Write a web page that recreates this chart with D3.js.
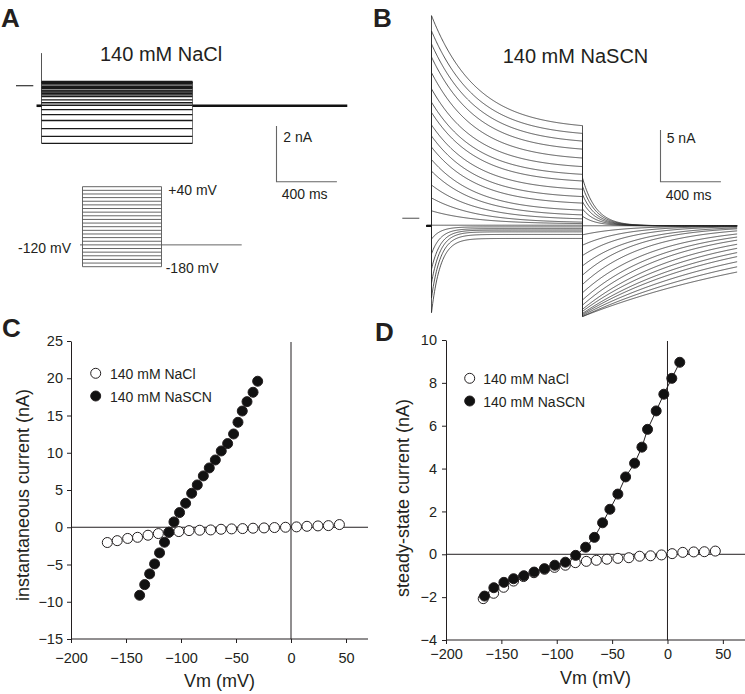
<!DOCTYPE html>
<html><head><meta charset="utf-8">
<script src="https://cdn.jsdelivr.net/npm/d3@7"></script>
<style>
body{margin:0;background:#fff}
svg{display:block}
text{font-family:"Liberation Sans",Arial,sans-serif;fill:#231f20}
</style>
</head><body>
<svg id="fig" width="745" height="694"></svg>
<script>
// ---------------- DATA ----------------
// Panel C: instantaneous current (nA) vs Vm (mV)
const vmC_NaCl = [-167,-158,-148.5,-139.5,-130,-120.6,-111,-102,-92.7,-83,-73,-63.6,-54,-44,-34.5,-24.5,-15,-5,5,14.5,24.5,34,44];
const iInst_NaCl = [-2.05,-1.8,-1.5,-1.35,-1.07,-0.85,-0.67,-0.58,-0.45,-0.4,-0.36,-0.27,-0.22,-0.18,-0.13,-0.09,-0.04,0,0.05,0.13,0.18,0.22,0.36];
const vmC_NaSCN = [-137.6,-133,-128.5,-124,-119.5,-115,-111,-106.4,-101.3,-95.8,-90.3,-85.2,-79.7,-74.3,-68.8,-63.4,-57.6,-52.2,-48.2,-44.3,-40,-34.5,-30.3];
const iInst_NaSCN = [-9.13,-7.7,-6.26,-4.92,-3.44,-2.01,-0.67,0.72,1.97,3.22,4.56,5.68,6.89,7.96,9.03,10.24,11.23,12.52,14.09,15.6,16.86,18.12,19.6];
// Panel D: steady-state current (nA) vs Vm (mV)
const vmD_NaCl = [-166.4,-157,-148,-139,-130,-120.6,-111,-102,-92.2,-83.2,-73.3,-64.2,-54.7,-44.8,-34.9,-25.2,-15.3,-5.4,4.2,13.8,23.7,33.3,43.2];
const iSS_NaCl = [-2.07,-1.82,-1.54,-1.25,-1.04,-0.86,-0.7,-0.61,-0.51,-0.39,-0.33,-0.28,-0.23,-0.19,-0.16,-0.09,-0.07,-0.03,0.03,0.09,0.11,0.12,0.15];
const vmD_NaSCN = [-165.2,-156.8,-147.7,-139,-129.7,-120.4,-111.1,-101.8,-92.2,-82.9,-73.9,-66,-58.6,-52,-44.8,-37.8,-29.7,-23.1,-18,-10.2,-3.3,3.9,11.1];
const iSS_NaSCN = [-1.95,-1.56,-1.31,-1.14,-1.0,-0.83,-0.67,-0.51,-0.37,-0.05,0.33,0.79,1.47,2.1,2.81,3.61,4.25,5.0,5.83,6.69,7.47,8.21,8.96];
// Voltage protocol (mV)
const protocolV = [-180,-170,-160,-150,-140,-130,-120,-110,-100,-90,-80,-70,-60,-50,-40,-30,-20,-10,0,10,20,30,40];
const holdV = -120;
const holdI = -0.72;              // holding current (nA)
const stepMs = 1000, endMs = 2025, preMs = -33;
// Panel B kinetics
const stepTau = [60,60,60,60,60,60,60,300,300,300,300,300,300,300,300,300,300,300,300,300,300,300,300];
const tailStart = [3.9,3.1,2.3,1.6,0.9,0.2,-0.72,-1.6,-2.6,-3.6,-4.6,-5.5,-6.4,-7.2,-7.9,-8.4,-8.8,-9.0,-9.2,-9.3,-9.4,-9.5,-9.5];
const tailTau = [90,90,90,90,90,90,90,268,280,303,344,368,420,488,544,600,680,768,865,970,1120,1290,1520];
const capSpikeA = 1.17;           // capacitive spike in A (nA)
// Ticks
const xTicks = [-200,-150,-100,-50,0,50];
const yTicksC = [-15,-10,-5,0,5,10,15,20,25];
const yTicksD = [-4,-2,0,2,4,6,8,10];
const legendLabels = ["140 mM NaCl","140 mM NaSCN"];

// ---------------- DRAW ----------------
const svg = d3.select("#fig");
const ink = "#231f20";

function panelLetter(t,x,y){
  svg.append("text").attr("x",x).attr("y",y).text(t)
    .style("font-size","26px").style("font-weight","bold");
}
panelLetter("A",1,27); panelLetter("B",373,27); panelLetter("C",2,337); panelLetter("D",375,341);

// ---- Panel A ----
const xA = d3.scaleLinear().domain([0,stepMs]).range([41.5,192.5]);
const yA = d3.scaleLinear().domain([0,2]).range([85.7,85.7-55.7]);
const gA = svg.append("g");
gA.append("text").attr("x",100).attr("y",61).text("140 mM NaCl").style("font-size","20px");
gA.append("line").attr("x1",16).attr("x2",33.3).attr("y1",yA(0)).attr("y2",yA(0)).attr("stroke","#333").attr("stroke-width",1.2);
const levA = iSS_NaCl;
gA.append("line").attr("x1",xA(0)).attr("x2",xA(0)).attr("y1",yA(capSpikeA)).attr("y2",yA(d3.min(levA)))
  .attr("stroke","#555").attr("stroke-width",1);
gA.append("line").attr("x1",xA(stepMs)).attr("x2",xA(stepMs)).attr("y1",yA(d3.max(levA))).attr("y2",yA(d3.min(levA)))
  .attr("stroke","#777").attr("stroke-width",1);
levA.forEach(v=>{
  gA.append("line").attr("x1",xA(0)).attr("x2",xA(stepMs)).attr("y1",yA(v)).attr("y2",yA(v))
    .attr("stroke","#1a1a1a").attr("stroke-width",1.4);
});
gA.append("line").attr("x1",xA(preMs)).attr("x2",xA(0)).attr("y1",yA(holdI)).attr("y2",yA(holdI)).attr("stroke","#111").attr("stroke-width",2.6);
gA.append("line").attr("x1",xA(stepMs)).attr("x2",xA(endMs)).attr("y1",yA(holdI)).attr("y2",yA(holdI)).attr("stroke","#111").attr("stroke-width",2.4);
const sbA = {x:276.5,y:126};
gA.append("path").attr("d",`M${sbA.x},${sbA.y}V${sbA.y+(yA(0)-yA(2))}H${sbA.x+(xA(400)-xA(0))}`)
  .attr("fill","none").attr("stroke","#666").attr("stroke-width",1.1);
gA.append("text").attr("x",283.3).attr("y",141.7).text("2 nA").style("font-size","14px");
gA.append("text").attr("x",281.7).attr("y",199).text("400 ms").style("font-size","14px");

// ---- Voltage protocol ----
const xP = d3.scaleLinear().domain([0,stepMs]).range([82.5,161.5]);
const yP = d3.scaleLinear().domain([-180,40]).range([266.7,186.7]);
const gP = svg.append("g").attr("stroke","#555").attr("stroke-width",0.9);
protocolV.forEach(v=>{
  gP.append("line").attr("x1",xP(0)).attr("x2",xP(stepMs)).attr("y1",yP(v)).attr("y2",yP(v));
});
gP.append("line").attr("x1",xP(0)).attr("x2",xP(0)).attr("y1",yP(40)).attr("y2",yP(-180));
gP.append("line").attr("x1",xP(stepMs)).attr("x2",xP(stepMs)).attr("y1",yP(40)).attr("y2",yP(-180));
gP.append("line").attr("x1",80).attr("x2",xP(0)).attr("y1",yP(holdV)).attr("y2",yP(holdV));
gP.append("line").attr("x1",xP(stepMs)).attr("x2",241.7).attr("y1",yP(holdV)).attr("y2",yP(holdV));
svg.append("text").attr("x",168.3).attr("y",195).text("+40 mV").style("font-size","14px");
svg.append("text").attr("x",71).attr("y",252.5).attr("text-anchor","end").text("-120 mV").style("font-size","14px");
svg.append("text").attr("x",165.7).attr("y",273).text("-180 mV").style("font-size","14px");

// ---- Panel B ----
const xB = d3.scaleLinear().domain([0,stepMs]).range([431.5,582.5]);
const yB = d3.scaleLinear().domain([0,5]).range([218.3,218.3-51.7]);
const gB = svg.append("g");
gB.append("text").attr("x",502.7).attr("y",63).text("140 mM NaSCN").style("font-size","20px");
gB.append("line").attr("x1",402.3).attr("x2",419.3).attr("y1",yB(0)).attr("y2",yB(0)).attr("stroke","#777").attr("stroke-width",1.3);
const lineB = d3.line().x(d=>xB(d[0])).y(d=>yB(d[1]));
iInst_NaSCN.forEach((i0,k)=>{
  const iEnd = iSS_NaSCN[k], tau = stepTau[k];
  const eT = Math.exp(-stepMs/tau);
  const pts = [[preMs,holdI],[0,holdI]];
  for(let t=0;t<=stepMs;t+=4){
    const f = (Math.exp(-t/tau)-eT)/(1-eT);
    pts.push([t, iEnd+(i0-iEnd)*f]);
  }
  const ts = tailStart[k], tt = tailTau[k];
  for(let t=0;t<=endMs-stepMs;t+=4){
    pts.push([stepMs+t, holdI+(ts-holdI)*Math.exp(-t/tt)]);
  }
  gB.append("path").attr("d",lineB(pts)).attr("fill","none").attr("stroke","#2a2a2a").attr("stroke-width",0.8);
});
gB.append("line").attr("x1",xB(preMs)).attr("x2",xB(0)).attr("y1",yB(holdI)).attr("y2",yB(holdI)).attr("stroke","#111").attr("stroke-width",2.2);
const sbB = {x:660.5,y:130};
gB.append("path").attr("d",`M${sbB.x},${sbB.y}V${sbB.y+(yB(0)-yB(5))}H${sbB.x+(xB(400)-xB(0))}`)
  .attr("fill","none").attr("stroke","#666").attr("stroke-width",1.1);
gB.append("text").attr("x",666.7).attr("y",143.3).text("5 nA").style("font-size","14px");
gB.append("text").attr("x",665.7).attr("y",200).text("400 ms").style("font-size","14px");

// ---- IV panels ----
function ivPanel(cfg){
  const g = svg.append("g");
  const x = d3.scaleLinear().domain([-200,70]).range(cfg.xr);
  const y = d3.scaleLinear().domain(cfg.yd).range(cfg.yr);
  g.append("line").attr("x1",cfg.xr[0]).attr("x2",cfg.xr[1]).attr("y1",y(0)).attr("y2",y(0)).attr("stroke",ink).attr("stroke-width",1);
  g.append("line").attr("x1",x(0)).attr("x2",x(0)).attr("y1",cfg.yr[1]+1).attr("y2",cfg.yr[0]).attr("stroke",ink).attr("stroke-width",1);
  const ax = g.append("g").attr("transform",`translate(0,${cfg.yr[0]})`)
    .call(d3.axisBottom(x).tickValues(xTicks).tickSize(4).tickSizeOuter(0).tickPadding(cfg.xpad).tickFormat(d3.format("d")));
  const ay = g.append("g").attr("transform",`translate(${cfg.xr[0]},0)`)
    .call(d3.axisLeft(y).tickValues(cfg.yt).tickSize(4).tickSizeOuter(0).tickPadding(cfg.ypad).tickFormat(d3.format("d")));
  [ax,ay].forEach(a=>{
    a.selectAll("path,line").attr("stroke",ink).attr("stroke-width",1);
    a.selectAll("text").style("font-size","14.5px").style("font-family","'Liberation Sans',Arial,sans-serif").attr("fill",ink);
  });
  ax.select(".domain").attr("d",`M${cfg.xr[0]},0H${cfg.xr[1]}`);
  g.append("text").attr("x",(cfg.xr[0]+cfg.xr[1])/2).attr("y",cfg.xtY).attr("text-anchor","middle").text("Vm (mV)").style("font-size","18px");
  g.append("text").attr("transform",`translate(${cfg.ytX},${cfg.ytY}) rotate(-90)`).attr("text-anchor","middle").text(cfg.ytitle).style("font-size","18px");
  if(cfg.lineSCN){
    g.append("path").attr("d",d3.line().x((d,i)=>x(cfg.vS[i])).y(d=>y(d))(cfg.iS)).attr("fill","none").attr("stroke",ink).attr("stroke-width",1);
  }
  cfg.iC.forEach((v,i)=>{
    g.append("circle").attr("cx",x(cfg.vC[i])).attr("cy",y(v)).attr("r",5).attr("fill","#fff").attr("stroke",ink).attr("stroke-width",1);
  });
  cfg.iS.forEach((v,i)=>{
    g.append("circle").attr("cx",x(cfg.vS[i])).attr("cy",y(v)).attr("r",5).attr("fill","#111").attr("stroke",ink).attr("stroke-width",1);
  });
  const L = cfg.leg;
  g.append("circle").attr("cx",L.x).attr("cy",L.y1).attr("r",5).attr("fill","#fff").attr("stroke",ink);
  g.append("circle").attr("cx",L.x).attr("cy",L.y2).attr("r",5).attr("fill","#111").attr("stroke",ink);
  g.append("text").attr("x",L.tx).attr("y",L.y1+5.5).text(legendLabels[0]).style("font-size","14px");
  g.append("text").attr("x",L.tx).attr("y",L.y2+5.5).text(legendLabels[1]).style("font-size","14px");
}
ivPanel({xr:[71,368],yd:[-15,25],yr:[639,341],yt:yTicksC,xpad:10,ypad:4,
  xtY:687,ytX:29,ytY:495,ytitle:"instantaneous current (nA)",
  vC:vmC_NaCl,iC:iInst_NaCl,vS:vmC_NaSCN,iS:iInst_NaSCN,lineSCN:false,
  leg:{x:95.7,y1:373.3,y2:396,tx:110}});
ivPanel({xr:[446,745],yd:[-4,10],yr:[640,340],yt:yTicksD,xpad:5,ypad:5,
  xtY:684,ytX:408.5,ytY:498,ytitle:"steady-state current (nA)",
  vC:vmD_NaCl,iC:iSS_NaCl,vS:vmD_NaSCN,iS:iSS_NaSCN,lineSCN:true,
  leg:{x:469.7,y1:378.3,y2:401,tx:483.3}});
</script>
</body></html>
